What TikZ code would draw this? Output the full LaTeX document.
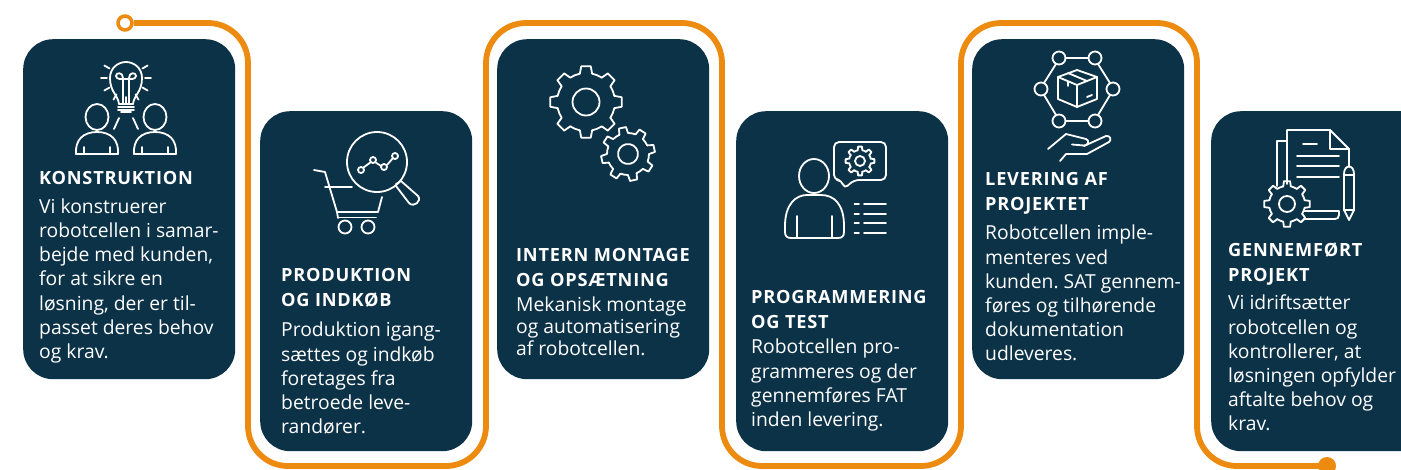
\documentclass[tikz,border=0pt]{standalone}
\usepackage{fontspec}
\setmainfont{Open Sans}
\newfontfamily\headfont[LetterSpace=4.2]{Open Sans}
\definecolor{navy}{HTML}{0C3248}
\definecolor{route}{HTML}{EC8B10}
\tikzset{
  card/.style={fill=navy,draw=none,rounded corners=30,inner sep=0,anchor=north west,minimum width=212,minimum height=340},
  heading/.style={text=white,inner sep=0,anchor=north west,align=left,font=\fontsize{18.2}{24.5}\selectfont\headfont\bfseries},
  bodytext/.style={text=white,inner sep=0,anchor=north west,align=left,font=\fontsize{19.3}{#1}\selectfont\frenchspacing},
  bodytext/.default=24.2,
  routeline/.style={draw=route,line width=5.8,rounded corners=40},
  icon/.style={draw=white,line width=1.8,line cap=round,line join=round},
}
\newcommand{\st}{\rule{0pt}{14pt}}
\newcommand{\gearicon}[7]{%
  \begin{scope}[shift={(#1,#2)},rotate=#7]
    \pgfmathsetmacro{\stepang}{360/#6}
    \foreach \k in {1,...,#6}{
      \pgfmathsetmacro{\aa}{\k*\stepang-0.27*\stepang}
      \pgfmathsetmacro{\ab}{\k*\stepang-0.17*\stepang}
      \pgfmathsetmacro{\ac}{\k*\stepang+0.17*\stepang}
      \pgfmathsetmacro{\ad}{\k*\stepang+0.27*\stepang}
      \pgfmathsetmacro{\ae}{\k*\stepang+0.50*\stepang}
      \pgfmathsetmacro{\af}{\k*\stepang+0.73*\stepang}
      \draw[icon] (\aa:#4) -- (\ab:#3) -- (\ac:#3) -- (\ad:#4) -- (\ae:#4) -- (\af:#4);
    }
    \draw[icon] (0,0) circle[radius=#5];
  \end{scope}}
\begin{document}
\begin{tikzpicture}[x=1pt,y=-1pt]
\useasboundingbox (0,0) rectangle (1401,469);
\clip (0,0) rectangle (1401,469);
\fill[white] (0,0) rectangle (1401,469);
% cards
\node[card] (c1) at (23,39) {};
\node[card] (c2) at (260,111) {};
\node[card] (c3) at (497,39) {};
\node[card] (c4) at (736,111) {};
\node[card] (c5) at (972,39) {};
\node[card,minimum width=240] (c6) at (1211,111) {};
% route
\node[circle,draw=route,fill=white,line width=3.5,minimum size=14,inner sep=0] (start) at (125,23) {};
\node[circle,fill=route,minimum size=18,inner sep=0] (finish) at (1327,466) {};
\draw[routeline] (start.east) -- (248,23) -- (248,466) -- (486,466) -- (486,23) -- (722,23) -- (722,466) -- (961,466) -- (961,23) -- (1197,23) -- (1197,466) -- (finish.center);
% texts
\node[heading] (h1) at (39,170.7) {\st KONSTRUKTION};
\node[bodytext] (b1) at (39,198.5) {\st Vi konstruerer\\robotcellen i samar-\\bejde med kunden,\\for at sikre en\\løsning, der er til-\\passet deres behov\\og krav.};
\node[heading] (h2) at (281,267.7) {\st PRODUKTION\\OG INDKØB};
\node[bodytext] (b2) at (281,322) {\st Produktion igang-\\sættes og indkøb\\foretages fra\\betroede leve-\\randører.};
\node[heading] (h3) at (516,247.7) {\st INTERN MONTAGE\\OG OPSÆTNING};
\node[bodytext=22] (b3) at (516,297) {\st Mekanisk montage\\og automatisering\\af robotcellen.};
\node[heading] (h4) at (751,289.7) {\st PROGRAMMERING\\OG TEST};
\node[bodytext] (b4) at (751,339) {\st Robotcellen pro-\\grammeres og der\\gennemføres FAT\\inden levering.};
\node[heading] (h5) at (985,171.7) {\st LEVERING AF\\PROJEKTET};
\node[bodytext] (b5) at (985,225) {\st Robotcellen imple-\\menteres ved\\kunden. SAT gennem-\\føres og tilhørende\\dokumentation\\udleveres.};
\node[heading] (h6) at (1228,242.7) {\st GENNEMFØRT\\PROJEKT};
\node[bodytext] (b6) at (1228,295) {\st Vi idriftsætter\\robotcellen og\\kontrollerer, at\\løsningen opfylder\\aftalte behov og\\krav.};
% icon 1: bulb and people
\foreach \a in {0,30,60,90,120,150,180,210,-30}{
  \draw[icon] (126,78)++(\a:19) -- ++(\a:6);
}
\draw[icon] (119,104) .. controls (118,95) and (110,92) .. (110,78) .. controls (110,68) and (118,62) .. (126,62) .. controls (134,62) and (142,68) .. (142,78) .. controls (142,92) and (134,95) .. (133,104);
\draw[icon] (119,104) -- (133,104) (118,107) -- (134,107) (118,110) -- (134,110) (121,112) -- (131,112);
\draw[icon] (123,104) -- (123,78) .. controls (123,72) and (116,72) .. (116,76) .. controls (116,80) and (123,79) .. (126,79) .. controls (129,79) and (136,80) .. (136,76) .. controls (136,72) and (129,72) .. (129,78) -- (129,104);
\foreach \px in {97,155}{
  \draw[icon] (\px,117) ellipse[x radius=11.5,y radius=13];
  \draw[icon] (\px-21,154) .. controls (\px-22,140) and (\px-14,132) .. (\px,132) .. controls (\px+14,132) and (\px+22,140) .. (\px+21,154) -- cycle;
  \draw[icon] (\px-13,147) -- (\px-13,154) (\px+13,147) -- (\px+13,154);
}
\draw[icon] (114,129) -- (119,118) (133,118) -- (138,129);
% icon 2: cart and magnifier
\draw[icon] (377,162) circle[radius=30];
\draw[icon] (396,184) -- (401,181) -- (418,196) .. controls (422,201) and (414,208) .. (409,203) -- (396,186);
\foreach \cx/\cy in {361/170,373/160,384/167,395/156}{\draw[icon] (\cx,\cy) circle[radius=3];}
\draw[icon] (363.5,167.5) -- (371,162) (375,162) -- (381,166) (387,165) -- (393,158);
\draw[icon] (314,170) -- (325,172) -- (337,212) -- (338,218);
\draw[icon] (325,187) -- (352,187);
\draw[icon] (382,197) -- (378,212) -- (337,212);
\draw[icon] (339,217.5) -- (376,217.5);
\draw[icon] (345,227) circle[radius=6.5] (368,227) circle[radius=6.5];
% icon 3: gears
\gearicon{586}{102}{36}{29}{13.5}{8}{0}
\gearicon{628}{154}{27}{21}{10}{8}{12}
% icon 4: person with speech bubble
\draw[icon] (814,176) ellipse[x radius=15,y radius=17];
\draw[icon] (785,226) .. controls (785,204) and (796,195) .. (807,195) -- (821,195) .. controls (834,195) and (844,204) .. (844,226) -- (844,232) .. controls (844,236) and (842,238) .. (838,238) -- (791,238) .. controls (787,238) and (785,236) .. (785,232) -- cycle;
\draw[icon] (797,216) -- (797,238) (832,216) -- (832,238);
\draw[icon,rounded corners=5] (844,189) -- (854,180) -- (886,180) -- (886,142) -- (834,142) -- (834,180) -- (842,180) -- cycle;
\gearicon{860}{161}{14.5}{11}{5}{8}{0}
\foreach \ly in {204,214,223,233}{\draw[icon] (854.5,\ly) -- (859,\ly) (864,\ly) -- (886,\ly);}
% icon 5: network, box, hand
\draw[icon] (1065.5,58) -- (1088.5,58) (1098,64) -- (1110,83) (1110,95) -- (1098,115) (1088.5,121) -- (1065.5,121) (1056,115) -- (1044,95) (1044,83) -- (1056,64);
\foreach \nx/\ny in {1059/58,1095/58,1113/89,1095/121,1059/121,1041/89}{\draw[icon] (\nx,\ny) circle[radius=6.5];}
\draw[icon] (1077,70) -- (1097,77) -- (1097,99) -- (1077,107) -- (1058,99) -- (1058,77) -- cycle;
\draw[icon] (1058,77) -- (1077,85) -- (1097,77) (1077,85) -- (1077,107);
\draw[icon] (1068,73) -- (1087,81) (1068,82) -- (1068,86) (1087,97) -- (1092,95);
\draw[icon] (1048,149) -- (1066,134) -- (1086,139) .. controls (1090,140) and (1088,146) .. (1084,145.5) -- (1072,144.5);
\draw[icon] (1084,146) -- (1106,136) .. controls (1110,135) and (1112,140) .. (1109,142) -- (1087,154) -- (1066,154) -- (1060,161);
% icon 6: documents, gear, pencil
\draw[icon] (1287,184) -- (1287,130) -- (1330,130) -- (1349,149) -- (1349,167);
\draw[icon] (1330,130) -- (1330,149) -- (1349,149);
\draw[icon] (1287,141) -- (1277,141) -- (1277,186);
\draw[icon] (1303,144) -- (1317,144) (1297,156) -- (1339,156) (1297,166) -- (1339,166) (1297,177) -- (1339,177);
\draw[icon] (1304,211) -- (1339,211) -- (1339,215) .. controls (1339,218) and (1337,219) .. (1335,219) -- (1304,219);
\draw[icon] (1344,174) .. controls (1344,164) and (1354,164) .. (1354,174) -- (1354,210) -- (1349,220) -- (1344,210) -- cycle;
\draw[icon] (1344,175) -- (1354,175) (1344,210) -- (1354,210);
\gearicon{1287}{204}{23}{18}{8}{8}{0}
\end{tikzpicture}
\end{document}
